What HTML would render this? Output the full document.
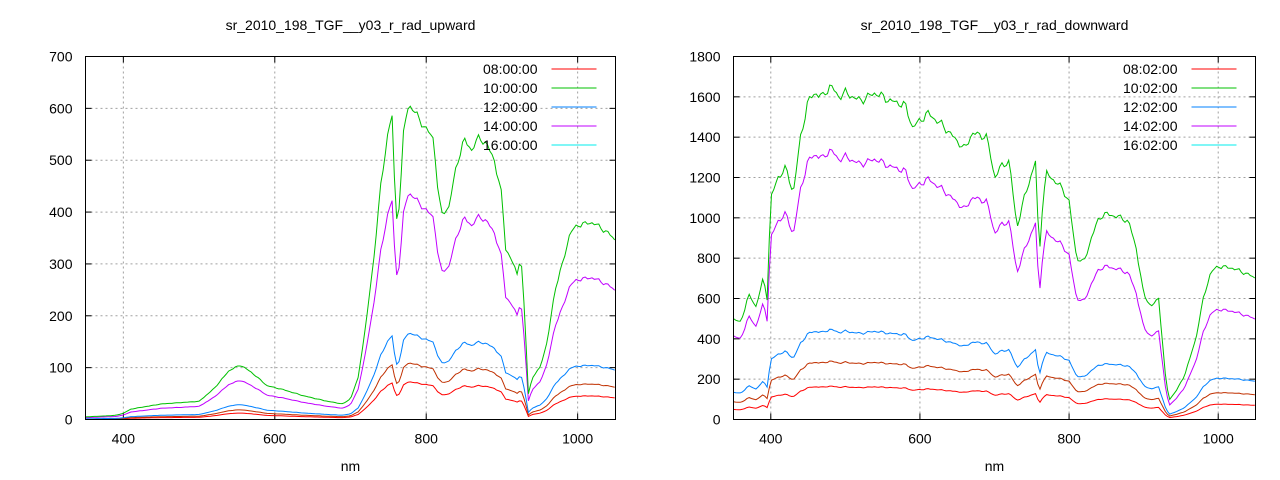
<!DOCTYPE html>
<html><head><meta charset="utf-8"><style>
html,body{margin:0;padding:0;background:#fff;}
svg{display:block;font-family:"Liberation Sans",Arial,sans-serif;font-size:14px;}
</style></head><body>
<svg id="s" width="1280" height="480" xmlns="http://www.w3.org/2000/svg"></svg>
<script>
const S=document.getElementById('s');let h='';
function interp(k,x){for(let i=0;i<k.length-1;i++){if(x>=k[i][0]&&x<=k[i+1][0]){const t=(x-k[i][0])/(k[i+1][0]-k[i][0]);return k[i][1]+t*(k[i+1][1]-k[i][1]);}}return k[k.length-1][1];}
function noise(x){return Math.sin(x*1.7)*0.5+Math.sin(x*0.63+1)*0.5;}
function plot(o){
 const L=o.L,R=o.R,T=56.5,B=419.5;
 const X=v=>L+(v-350)/700*(R-L), Y=v=>B-v/o.ymax*(B-T);
 for(const xv of [400,600,800,1000]){const x=X(xv);h+=`<line x1="${x}" y1="${T}" x2="${x}" y2="${B}" stroke="#a0a0a0" stroke-dasharray="2,3"/>`;
  h+=`<line x1="${x}" y1="${B}" x2="${x}" y2="${B-6}" stroke="#000"/><line x1="${x}" y1="${T}" x2="${x}" y2="${T+6}" stroke="#000"/>`;
  h+=`<text x="${x}" y="${B+24}" text-anchor="middle">${xv}</text>`;}
 for(let yv=0;yv<=o.ymax;yv+=o.ystep){const y=Y(yv);
  if(yv>0&&yv<o.ymax)h+=`<line x1="${L}" y1="${y}" x2="${R}" y2="${y}" stroke="#a0a0a0" stroke-dasharray="2,3"/>`;
  h+=`<line x1="${L}" y1="${y}" x2="${L+6}" y2="${y}" stroke="#000"/><line x1="${R}" y1="${y}" x2="${R-6}" y2="${y}" stroke="#000"/>`;
  h+=`<text x="${L-13}" y="${y+5}" text-anchor="end">${yv}</text>`;}
 o.series.forEach(s=>{let p=[];for(let nm=350;nm<=1050;nm+=3){let f=s.f+(s.g||0)*(nm-350)/700;let v=interp(o.k,nm)*f*(1+0.015*noise(nm));p.push(X(nm).toFixed(1)+','+Y(Math.max(0,v)).toFixed(1));}
  h+=`<polyline points="${p.join(' ')}" fill="none" stroke="${s.c}" stroke-width="1"/>`;});
 h+=`<rect x="${L}" y="${T}" width="${R-L}" height="${B-T}" fill="none" stroke="#000"/>`;
 o.leg.forEach((t,i)=>{const y=69+i*19;h+=`<text x="${R-78}" y="${y+5}" text-anchor="end">${t}</text><line x1="${R-64}" y1="${y}" x2="${R-19}" y2="${y}" stroke="${o.lc[i]}"/>`;});
 h+=`<text x="${(L+R)/2}" y="30" text-anchor="middle">${o.title}</text><text x="${(L+R)/2}" y="471" text-anchor="middle">nm</text>`;
}
const up=[[350,5],[390,8],[400,12],[410,20],[450,30],[500,35],[520,60],[540,95],[555,105],[570,90],[590,65],[610,58],[640,45],[670,35],[690,30],[700,40],[710,80],[720,180],[730,300],[740,450],[750,560],[755,585],[760,380],[765,420],[770,550],[775,600],[780,605],[790,580],[800,560],[810,540],[815,450],[820,395],[830,410],[840,490],[850,540],[860,520],[870,545],[880,530],[890,500],[900,430],[905,330],[915,300],[920,280],[925,320],[930,200],[935,50],[940,80],[950,100],[960,150],[970,250],[980,300],[990,360],[1000,375],[1020,380],[1040,360],[1050,345]];
const dn=[[350,500],[360,480],[370,620],[380,560],[390,700],[395,600],[400,1100],[410,1200],[420,1250],[430,1120],[440,1400],[450,1580],[460,1620],[470,1600],[480,1660],[490,1600],[500,1620],[520,1580],[540,1620],[560,1580],[580,1560],[590,1450],[600,1480],[610,1520],[630,1460],[650,1380],[660,1340],[670,1420],[690,1400],[700,1200],[710,1260],[720,1280],[730,950],[740,1100],[755,1280],[760,800],[765,1100],[770,1220],[790,1150],[800,1080],[810,800],[820,780],[830,900],[840,1000],[850,1020],[870,1000],[880,980],[890,850],[900,620],[910,560],[920,600],[925,400],[930,180],[935,100],[945,150],[955,220],[960,280],[970,400],[980,600],[990,730],[1000,760],[1020,750],[1040,720],[1050,700]];
const lc=['#ff0000','#00c000','#0080ff','#c000ff','#00eeee'];
plot({L:85.5,R:615.5,ymax:700,ystep:100,k:up,title:'sr_2010_198_TGF__y03_r_rad_upward',
 leg:['08:00:00','10:00:00','12:00:00','14:00:00','16:00:00'],lc,
 series:[{f:0.12,c:'#ff0000'},{f:0.18,c:'#c03000'},{f:0.275,c:'#0080ff'},{f:0.72,c:'#c000ff'},{f:1,c:'#00c000'}]});
plot({L:733.5,R:1255.5,ymax:1800,ystep:200,k:dn,title:'sr_2010_198_TGF__y03_r_rad_downward',
 leg:['08:02:00','10:02:00','12:02:00','14:02:00','16:02:00'],lc,
 series:[{f:0.1,c:'#ff0000'},{f:0.175,c:'#c03000'},{f:0.27,c:'#0080ff'},{f:0.83,g:-0.12,c:'#c000ff'},{f:1,c:'#00c000'}]});
S.innerHTML=h;
</script>
</body></html>
